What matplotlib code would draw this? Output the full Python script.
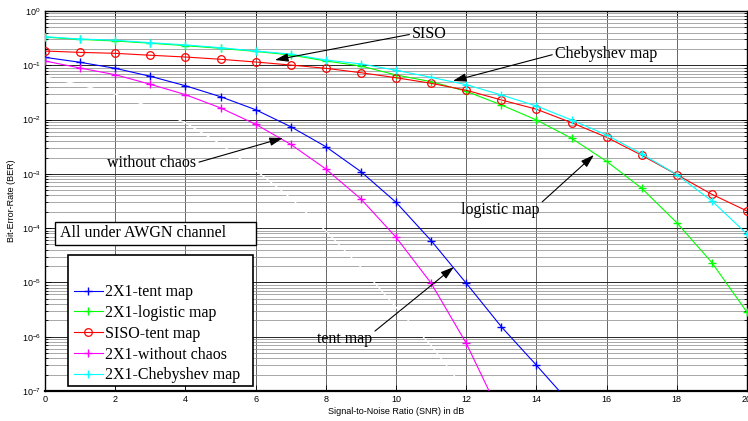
import numpy as np
import matplotlib
matplotlib.use("Agg")
import matplotlib.pyplot as plt
from matplotlib.patches import Rectangle
from matplotlib.ticker import LogLocator, FixedLocator, FuncFormatter

plt.rcParams['font.family'] = ['Liberation Sans', 'DejaVu Sans']
plt.rcParams['mathtext.fontset'] = 'custom'
plt.rcParams['mathtext.rm'] = 'Liberation Sans'

# -------------------------- #
# ---------- DATA ---------- #
# -------------------------- #

snr = list(range(0, 21))  # dB

ber_tent = [0.140, 0.1135, 0.088, 0.0627, 0.042, 0.0264, 0.0152, 0.0074, 0.00317,
            0.0011, 3.0e-4, 5.9e-5, 9.7e-6, 1.53e-6, 2.99e-7, 5.6e-8]
ber_logistic = [0.33, 0.30, 0.28, 0.255, 0.23, 0.205, 0.18, 0.155, 0.12, 0.097,
                0.0663, 0.0499, 0.0332, 0.0186, 0.00984, 0.00453, 0.0017,
                5.43e-4, 1.26e-4, 2.32e-5, 2.83e-6]
ber_siso = [0.183, 0.173, 0.166, 0.153, 0.142, 0.129, 0.115, 0.101, 0.088, 0.073,
            0.059, 0.0466, 0.0347, 0.023, 0.0155, 0.00877, 0.00472, 0.0022,
            9.67e-4, 4.2e-4, 2.07e-4]
ber_nochaos = [0.12, 0.089, 0.0671, 0.0447, 0.0288, 0.0164, 0.0082, 0.0035, 0.00123,
               3.45e-4, 6.8e-5, 9.7e-6, 7.6e-7, 3.4e-8]
ber_cheby = [0.336, 0.305, 0.289, 0.261, 0.237, 0.211, 0.183, 0.161, 0.125, 0.106,
             0.081, 0.060, 0.044, 0.0284, 0.0178, 0.00984, 0.0052, 0.00233,
             9.67e-4, 3.17e-4, 7.8e-5]
ber_theory = [0.061, 0.0437, 0.0295, 0.017, 0.0087, 0.00355, 0.00117, 3.6e-4,
              8.9e-5, 1.9e-5, 3.5e-6, 6.9e-7, 1.0e-7]

labels = ["2X1-tent map", "2X1-logistic map", "SISO-tent map",
          "2X1-without chaos", "2X1-Chebyshev map"]

# -------------------------- #
# ---------- PLOT ---------- #
# -------------------------- #

fig = plt.figure(figsize=(7.48, 4.21), dpi=100)
ax = fig.add_axes([45 / 748, 30 / 421, 702 / 748, 380 / 421])

ax.semilogy(snr[:len(ber_theory)], ber_theory, color='white', lw=0.9, zorder=1.5)

series = [
    (ber_tent, '#0000ff', '+'),
    (ber_logistic, '#00ff00', '+'),
    (ber_siso, '#ff0000', 'o'),
    (ber_nochaos, '#ff00ff', '+'),
    (ber_cheby, '#00ffff', '+'),
]
handles = []
for (vals, col, mk), lab in zip(series, labels):
    kw = dict(color=col, lw=0.8, marker=mk, label=lab, zorder=3)
    if mk == 'o':
        kw.update(markersize=5.5, markerfacecolor='none', markeredgewidth=0.9)
    else:
        kw.update(markersize=6, markeredgewidth=1.0)
    h, = ax.semilogy(snr[:len(vals)], vals, **kw)
    handles.append(h)

ax.set_xlim(0, 20)
ax.set_ylim(1e-7, 1)
ax.xaxis.set_major_locator(FixedLocator(np.arange(0, 21, 2)))
ax.yaxis.set_major_locator(LogLocator(base=10, numticks=20))
ax.yaxis.set_minor_locator(LogLocator(base=10, subs=np.arange(2, 10), numticks=20))
ax.yaxis.set_major_formatter(FuncFormatter(lambda v, p: r"$\mathregular{10^{%d}}$" % round(np.log10(v))))

ax.grid(which='major', axis='x', color='0.3', lw=0.6, zorder=1)
ax.grid(which='major', axis='y', color='0.15', lw=0.7, zorder=1)
ax.grid(which='minor', axis='y', color='0.6', lw=0.6, zorder=1)
ax.set_axisbelow(True)

ax.tick_params(which='both', direction='in', top=True, right=True, labelsize=6.5, width=0.6)
ax.tick_params(which='major', length=4, pad=3)
ax.tick_params(which='minor', length=2)
for s in ax.spines.values():
    s.set_linewidth(1.0)
ax.spines['bottom'].set_linewidth(1.6)

ax.set_xlabel("Signal-to-Noise Ratio (SNR) in dB", fontsize=6.5, labelpad=2)
ax.set_ylabel("Bit-Error-Rate (BER)", fontsize=6.5, labelpad=4)

serif = ['Liberation Serif', 'DejaVu Serif']
fs = 11.5

# channel note
ax.add_patch(Rectangle((0.01425, 0.3842), 0.2864, 0.0605, transform=ax.transAxes,
                       facecolor='white', edgecolor='black', lw=1.0, zorder=4))
ax.text(0.0214, 0.4145, "All under AWGN channel", transform=ax.transAxes,
        family=serif, fontsize=fs, va='center', ha='left', zorder=5)

# legend box
ax.add_patch(Rectangle((0.0328, 0.013), 0.2635, 0.345, transform=ax.transAxes,
                       facecolor='white', edgecolor='black', lw=1.2, zorder=4))
leg = ax.legend(handles=handles, loc='lower left', bbox_to_anchor=(0.0413, 0.02),
                frameon=False, prop={'family': serif, 'size': fs}, numpoints=1,
                handlelength=1.8, handletextpad=0.15, labelspacing=0.3,
                borderpad=0, borderaxespad=0)
leg.set_zorder(6)

# arrow labels
arrow = dict(arrowstyle='-|>,head_length=0.7,head_width=0.22', color='black', lw=0.8,
             shrinkA=0, shrinkB=0)
notes = [
    ("SISO", (6.55, 0.125), (10.46, 0.377), (0, 0.5)),
    ("Chebyshev map", (11.62, 0.0514), (14.53, 0.1615), (0, 0.5)),
    ("without chaos", (6.78, 0.00458), (1.77, 0.00159), (1, 0.5)),
    ("logistic map", (15.64, 0.00223), (11.85, 2.16e-4), (1, 0.85)),
    ("tent map", (11.65, 1.93e-5), (7.75, 9.1e-7), (1, 0.85)),
]
for txt, head, pos, rel in notes:
    ax.annotate(txt, xy=head, xytext=pos, ha='left', va='center',
                family=serif, fontsize=fs, zorder=5,
                arrowprops=dict(arrow, relpos=rel))

fig.savefig("out.png", dpi=100)
